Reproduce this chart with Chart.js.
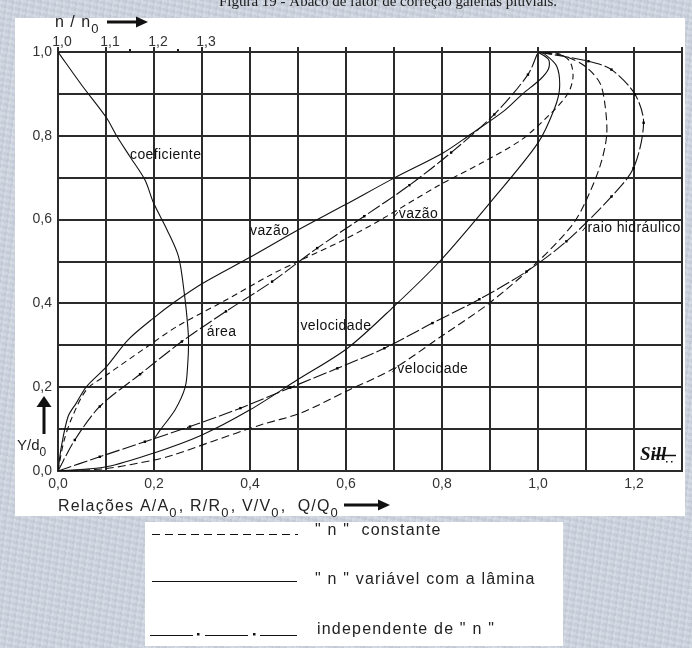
<!DOCTYPE html>
<html>
<head>
<meta charset="utf-8">
<script src="https://cdn.jsdelivr.net/npm/chart.js@4.4.1/dist/chart.umd.min.js"></script>
<style>
  html, body { margin: 0; padding: 0; }
  body {
    width: 692px; height: 648px; position: relative; overflow: hidden;
    background-color: #cdd4df;
    background-image:
      repeating-linear-gradient(97deg, rgba(255,255,255,0.10) 0 2px, rgba(0,0,0,0.00) 2px 5px, rgba(90,100,120,0.05) 5px 7px),
      repeating-linear-gradient(12deg, rgba(255,255,255,0.08) 0 3px, rgba(0,0,0,0.03) 3px 6px);
  }
  #panel { position: absolute; left: 15px; top: 18px; width: 670px; height: 498px; background: #fff; }
  #legendBox { position: absolute; left: 145px; top: 522px; width: 418px; height: 124px; background: #fff; }
  canvas { position: absolute; left: 0; top: 0; }
</style>
</head>
<body>
<div id="panel"></div>
<div id="legendBox"></div>
<canvas id="chart" width="692" height="648"></canvas>
<script>
// Tick labels (decimal comma)
const ratioTicks = ['0,0', '0,2', '0,4', '0,6', '0,8', '1,0', '1,2'];
const depthTicks = ['0,0', '0,2', '0,4', '0,6', '0,8', '1,0'];
const roughTicks = ['1,0', '1,1', '1,2', '1,3'];

// Manning coefficient ratio n/n0 against relative depth Y/d0
const coefDepth = [1.0, 0.92, 0.843, 0.80, 0.75, 0.695, 0.64, 0.576, 0.512, 0.425, 0.35, 0.305, 0.25, 0.20, 0.146, 0.098, 0.074];
const coefRatio = [1.0, 1.05, 1.101, 1.122, 1.15, 1.181, 1.199, 1.227, 1.251, 1.263, 1.27, 1.272, 1.27, 1.265, 1.244, 1.213, 1.199];

// Wetted area A/A0 (independent of n)
const areaDepth = [0, 0.074, 0.154, 0.231, 0.309, 0.381, 0.452, 0.532, 0.608, 0.682, 0.76, 0.851, 0.946, 1.0];
const areaRatio = [0, 0.035, 0.087, 0.171, 0.258, 0.35, 0.446, 0.54, 0.638, 0.732, 0.819, 0.909, 0.979, 1.0];

// Hydraulic radius R/R0 (independent of n)
const radiusDepth = [0, 0.034, 0.07, 0.106, 0.15, 0.199, 0.245, 0.293, 0.353, 0.41, 0.476, 0.548, 0.655, 0.723, 0.831, 0.899, 0.958, 0.978, 1.0];
const radiusRatio = [0, 0.087, 0.181, 0.275, 0.38, 0.484, 0.582, 0.68, 0.78, 0.878, 0.976, 1.059, 1.153, 1.199, 1.22, 1.202, 1.153, 1.105, 1.0];

// Discharge Q/Q0, n constant
const flowConstDepth = [0, 0.07, 0.13, 0.195, 0.229, 0.296, 0.345, 0.405, 0.468, 0.5, 0.552, 0.6, 0.68, 0.735, 0.791, 0.855, 0.902, 0.942, 0.978, 0.997, 1.0];
const flowConstRatio = [0, 0.012, 0.03, 0.06, 0.101, 0.185, 0.248, 0.345, 0.443, 0.5, 0.596, 0.673, 0.791, 0.882, 0.966, 1.028, 1.063, 1.073, 1.066, 1.04, 1.0];

// Discharge Q/Q0, n varying with depth
const flowVarDepth = [0, 0.058, 0.13, 0.162, 0.201, 0.249, 0.313, 0.365, 0.405, 0.447, 0.51, 0.574, 0.634, 0.699, 0.759, 0.799, 0.86, 0.9, 0.935, 0.96, 0.982, 1.0];
const flowVarRatio = [0, 0.007, 0.021, 0.038, 0.059, 0.101, 0.146, 0.199, 0.245, 0.3, 0.4, 0.498, 0.596, 0.70, 0.802, 0.854, 0.93, 0.968, 1.005, 1.022, 1.022, 1.0];

// Velocity V/V0, n constant
const velConstDepth = [0, 0.006, 0.026, 0.038, 0.07, 0.11, 0.138, 0.19, 0.245, 0.321, 0.401, 0.5, 0.585, 0.64, 0.727, 0.80, 0.87, 0.926, 0.966, 0.99, 1.0];
const velConstRatio = [0, 0.101, 0.199, 0.24, 0.32, 0.422, 0.505, 0.6, 0.70, 0.798, 0.899, 1.0, 1.07, 1.098, 1.129, 1.143, 1.14, 1.129, 1.098, 1.056, 1.0];

// Velocity V/V0, n varying with depth
const velVarDepth = [0, 0.01, 0.043, 0.086, 0.146, 0.217, 0.293, 0.393, 0.5, 0.643, 0.783, 0.867, 0.915, 0.966, 0.995, 1.0];
const velVarRatio = [0, 0.101, 0.2, 0.3, 0.4, 0.498, 0.603, 0.70, 0.795, 0.902, 1.0, 1.035, 1.045, 1.039, 1.014, 1.0];

const pts = (xs, ys) => xs.map((x, i) => ({ x: x, y: ys[i] }));

const INK = '#111';
const SANS = '"Liberation Sans", Arial, Helvetica, sans-serif';
const SERIF = '"Liberation Serif", "Times New Roman", serif';

const solid = { borderDash: [], pointRadius: 0 };
const dashed = { borderDash: [6, 4], pointRadius: 0 };
const dashDot = {
  borderDash: [14, 3],
  pointStyle: 'rect',
  pointRadius: (c) => (c.dataIndex === 0 || c.dataIndex === c.dataset.data.length - 1) ? 0 : 1.7,
  pointBackgroundColor: '#000',
  pointBorderWidth: 0
};

function series(label, data, style, axis) {
  return Object.assign({
    label: label,
    data: data,
    xAxisID: axis || 'x',
    yAxisID: 'y',
    showLine: true,
    borderColor: INK,
    borderWidth: 1.1,
    tension: 0.3,
    fill: false
  }, style);
}

const datasets = [
  series('coeficiente', pts(coefRatio, coefDepth), solid, 'x2'),
  series('área', pts(areaRatio, areaDepth), dashDot),
  series('raio hidráulico', pts(radiusRatio, radiusDepth), dashDot),
  series('vazão (n constante)', pts(flowConstRatio, flowConstDepth), dashed),
  series('vazão (n variável)', pts(flowVarRatio, flowVarDepth), solid),
  series('velocidade (n constante)', pts(velConstRatio, velConstDepth), { borderDash: [8, 4], pointRadius: 0 }),
  series('velocidade (n variável)', pts(velVarRatio, velVarDepth), solid)
];

function spacing(ctx, v) { try { ctx.letterSpacing = v; } catch (e) {} }

// Text with subscripts: parts = [[text, isSub], ...]
function subText(ctx, parts, x, y, size) {
  let cx = x;
  parts.forEach(([t, sub]) => {
    ctx.font = (sub ? Math.round(size * 0.8) : size) + 'px ' + SANS;
    ctx.fillText(t, cx, sub ? y + size * 0.38 : y);
    cx += ctx.measureText(t).width + (sub ? 1 : 0);
  });
  return cx;
}

function arrowRight(ctx, x0, x1, y) {
  ctx.beginPath();
  ctx.lineWidth = 3;
  ctx.moveTo(x0, y); ctx.lineTo(x1 - 10, y); ctx.stroke();
  ctx.beginPath();
  ctx.moveTo(x1, y); ctx.lineTo(x1 - 12, y - 5.5); ctx.lineTo(x1 - 12, y + 5.5); ctx.closePath();
  ctx.fill();
}

const decorations = {
  id: 'decorations',
  afterDraw(chart) {
    const ctx = chart.ctx;
    const sx = chart.scales.x, sy = chart.scales.y, s2 = chart.scales.x2;
    const area = chart.chartArea;
    ctx.save();
    ctx.fillStyle = '#1a1a1a';
    ctx.strokeStyle = '#1a1a1a';
    ctx.textBaseline = 'alphabetic';

    // Heading
    ctx.font = '15px ' + SERIF;
    ctx.textAlign = 'center';
    ctx.fillText('Figura 19 - Ábaco de fator de correção galerias pluviais.', 388, 6);
    ctx.textAlign = 'left';

    // Minor marks on the n/n0 scale
    [1.15, 1.25].forEach(v => {
      const px = s2.getPixelForValue(v);
      ctx.fillRect(px - 1, area.top - 3, 2, 2);
    });

    // n/n0 scale caption
    ctx.fillStyle = '#222';
    spacing(ctx, '1px');
    subText(ctx, [['n / n', 0], ['0', 1]], 55, 27, 16);
    spacing(ctx, '0px');
    ctx.fillStyle = '#111'; ctx.strokeStyle = '#111';
    arrowRight(ctx, 107, 148, 22);

    // Y/d0 caption with upward arrow
    ctx.fillStyle = '#222';
    subText(ctx, [['Y/d', 0], ['0', 1]], 17, 450, 15);
    ctx.fillStyle = '#111';
    ctx.lineWidth = 3;
    ctx.beginPath(); ctx.moveTo(44, 434); ctx.lineTo(44, 404); ctx.stroke();
    ctx.beginPath(); ctx.moveTo(44, 396); ctx.lineTo(36.5, 407); ctx.lineTo(51.5, 407); ctx.closePath(); ctx.fill();

    // X caption
    ctx.fillStyle = '#222';
    spacing(ctx, '1.2px');
    subText(ctx, [['Relações A/A', 0], ['0', 1], [', R/R', 0], ['0', 1], [', V/V', 0], ['0', 1], [',  Q/Q', 0], ['0', 1]], 58, 511, 16);
    spacing(ctx, '0px');
    ctx.fillStyle = '#111';
    arrowRight(ctx, 344, 390, 505);

    // Curve names
    ctx.fillStyle = '#111';
    ctx.font = '14px ' + SANS;
    ctx.textBaseline = 'middle';
    spacing(ctx, '0.4px');
    const names = [
      ['coeficiente', 0.15, 0.754],
      ['vazão', 0.40, 0.573],
      ['vazão', 0.71, 0.613],
      ['área', 0.31, 0.332],
      ['velocidade', 0.505, 0.346],
      ['velocidade', 0.707, 0.243],
      ['raio hidráulico', 1.103, 0.58]
    ];
    names.forEach(([t, vx, vy]) => ctx.fillText(t, sx.getPixelForValue(vx), sy.getPixelForValue(vy)));
    spacing(ctx, '0px');
    // short leaders from the names to their curves
    ctx.lineWidth = 1;
    [[0.71, 0.613], [0.707, 0.243], [1.103, 0.58]].forEach(([vx, vy]) => {
      const px = sx.getPixelForValue(vx), py = sy.getPixelForValue(vy);
      ctx.beginPath(); ctx.moveTo(px - 5, py + 3); ctx.lineTo(px - 1, py - 2); ctx.stroke();
    });

    // Author mark
    ctx.textBaseline = 'alphabetic';
    ctx.font = 'italic bold 19px ' + SERIF;
    ctx.fillText('Sill', 640, 460);
    ctx.lineWidth = 1.5;
    ctx.beginPath(); ctx.moveTo(653, 455.5); ctx.lineTo(676, 455.5); ctx.stroke();
    ctx.fillRect(666, 461, 1.5, 1.5); ctx.fillRect(671, 461, 1.5, 1.5);

    // Line style key
    ctx.strokeStyle = '#111';
    ctx.lineWidth = 1.2;
    ctx.setLineDash([8, 5]);
    ctx.beginPath(); ctx.moveTo(152, 534.5); ctx.lineTo(298, 534.5); ctx.stroke();
    ctx.setLineDash([]);
    ctx.beginPath(); ctx.moveTo(152, 581.5); ctx.lineTo(297, 581.5); ctx.stroke();
    [[150, 193], [205, 248], [260, 297]].forEach(([a, b]) => {
      ctx.beginPath(); ctx.moveTo(a, 635.5); ctx.lineTo(b, 635.5); ctx.stroke();
    });
    ctx.fillRect(197, 633, 2.5, 2.5); ctx.fillRect(253, 633, 2.5, 2.5);

    ctx.fillStyle = '#222';
    ctx.font = '16px ' + SANS;
    ctx.textBaseline = 'middle';
    spacing(ctx, '1.2px');
    ctx.fillText('" n "  constante', 315, 531);
    ctx.fillText('" n " variável com a lâmina', 315, 580);
    ctx.fillText('independente de " n "', 317, 630);
    spacing(ctx, '0px');
    ctx.restore();
  }
};

const tickFont = { family: SANS, size: 14 };
const gridColor = '#2b2b2b';

new Chart(document.getElementById('chart'), {
  type: 'scatter',
  data: { datasets: datasets },
  options: {
    responsive: false,
    animation: false,
    devicePixelRatio: 1,
    layout: { padding: { left: 0, top: 30, right: 10, bottom: 152 } },
    plugins: { legend: { display: false }, tooltip: { enabled: false } },
    scales: {
      x: {
        type: 'linear', position: 'bottom', min: 0, max: 1.3,
        ticks: {
          stepSize: 0.1, autoSkip: false, maxRotation: 0, padding: 5,
          color: '#333', font: tickFont,
          callback: (v) => { const k = Math.round(v * 10); return k % 2 === 0 ? (ratioTicks[k / 2] || '') : ''; }
        },
        grid: { color: gridColor, lineWidth: 2, drawTicks: false },
        border: { color: gridColor, width: 2 },
        afterFit: (s) => { s.height = 25; }
      },
      x2: {
        type: 'linear', position: 'top', min: 1.0, max: 2.3,
        ticks: {
          stepSize: 0.1, autoSkip: false, maxRotation: 0, padding: -4, labelOffset: 4,
          color: '#333', font: tickFont,
          callback: (v) => { const k = Math.round((v - 1) * 10); return k <= 3 ? roughTicks[k] : ''; }
        },
        grid: { drawOnChartArea: false, drawTicks: true, tickLength: 5, color: gridColor, lineWidth: 2 },
        border: { display: false },
        afterFit: (s) => { s.height = 22; }
      },
      y: {
        type: 'linear', position: 'left', min: 0, max: 1,
        ticks: {
          stepSize: 0.1, autoSkip: false, padding: 6,
          color: '#333', font: tickFont,
          callback: (v) => { const k = Math.round(v * 10); return k % 2 === 0 ? (depthTicks[k / 2] || '') : ''; }
        },
        grid: { color: gridColor, lineWidth: 2, drawTicks: false },
        border: { color: gridColor, width: 2 },
        afterFit: (s) => { s.width = 58; }
      }
    }
  },
  plugins: [decorations]
});
</script>
</body>
</html>
